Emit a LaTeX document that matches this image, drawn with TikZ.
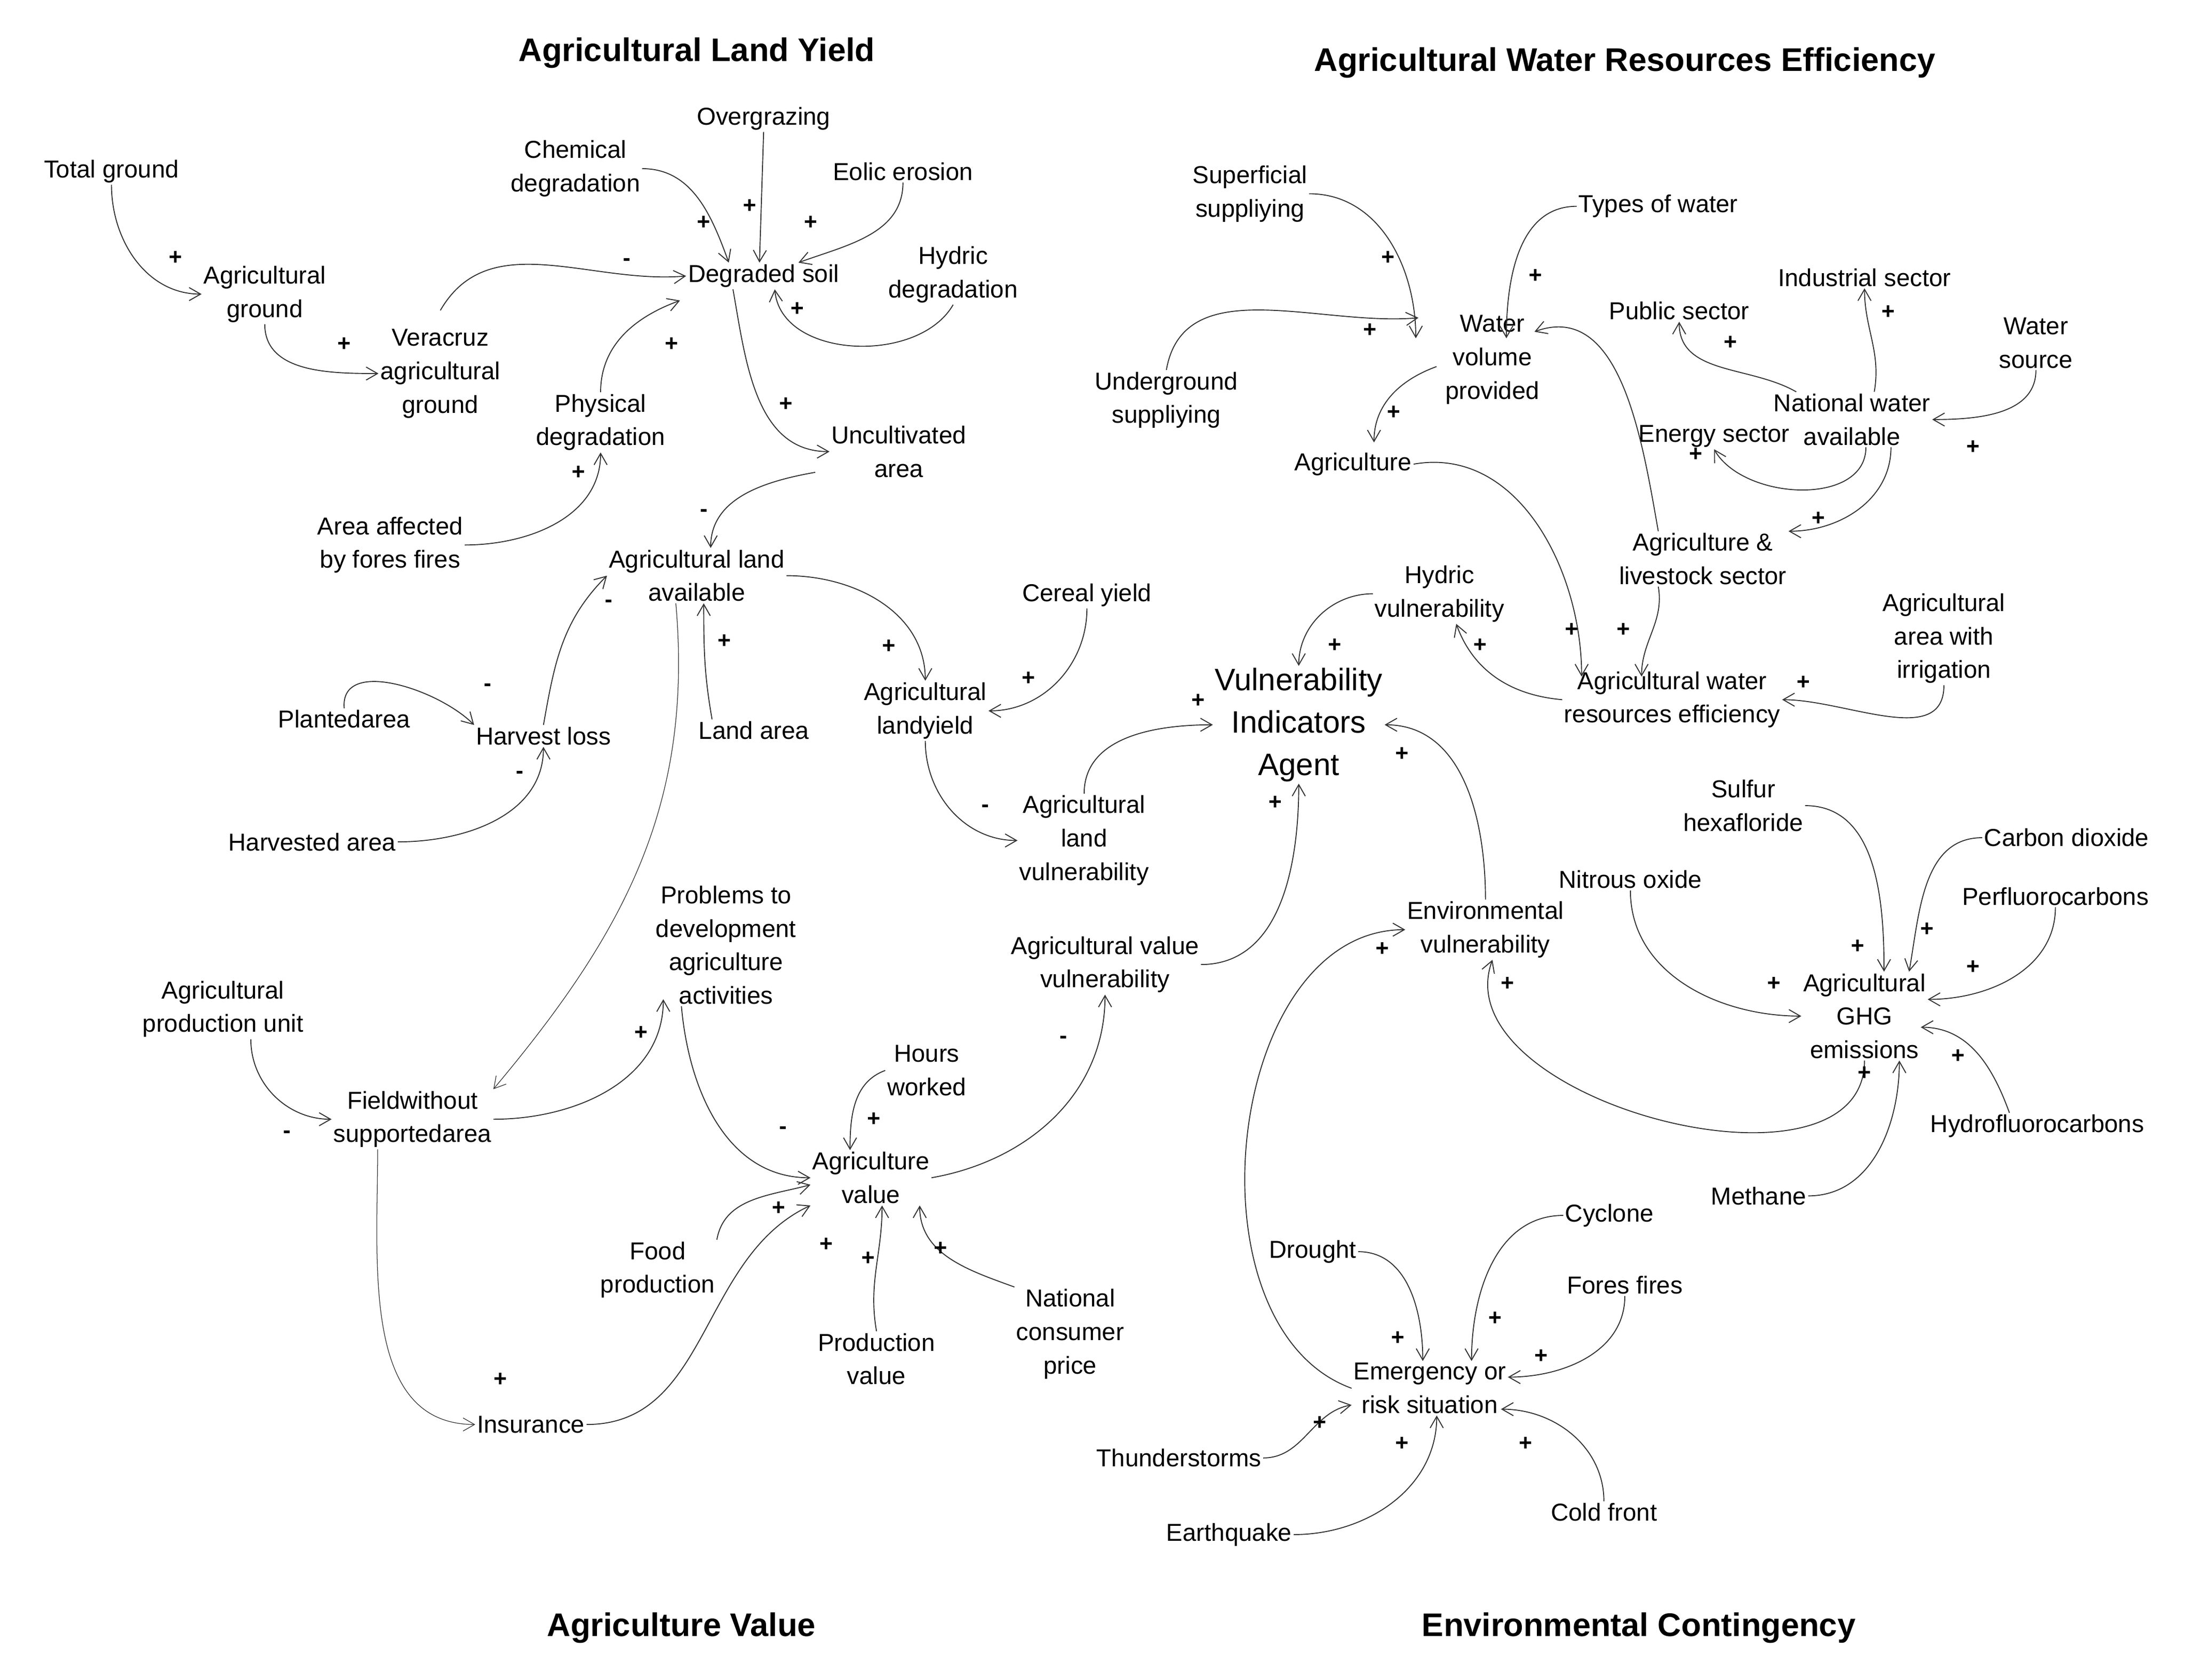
\documentclass[tikz,border=0pt]{standalone}
\usepackage{fontspec}
\setmainfont{Liberation Sans}
\usetikzlibrary{arrows.meta,calc}
\begin{document}
\begin{tikzpicture}[x=0.03cm,y=0.03cm,
  n/.style={align=center,inner sep=1pt,font=\fontsize{15}{20.5}\selectfont},
  tt/.style={font=\fontsize{20}{22}\selectfont\bfseries},
  sg/.style={inner sep=0pt,font=\fontsize{14}{14}\selectfont\bfseries},
  ar/.style={draw=black!80,line width=0.6pt,-{Straight Barb[length=7pt,width=8pt]}}]
\useasboundingbox (0,0) rectangle (1568,-1205);
\newcommand\sgn[3]{\node[sg] (s#1) at (#2) {#3};}
% titles
\node[tt] (t1) at (500,-38) {Agricultural Land Yield};
\node[tt] (t2) at (1166,-45) {Agricultural Water Resources Efficiency};
\node[tt] (t3) at (489,-1168) {Agriculture Value};
\node[tt] (t4) at (1176,-1168) {Environmental Contingency};
% land yield
\node[n] (tg) at (80,-123) {Total ground};
\node[n] (ag) at (190,-211) {Agricultural\\ground};
\node[n] (vag) at (316,-268) {Veracruz\\agricultural\\ground};
\node[n] (cd) at (413,-121) {Chemical\\degradation};
\node[n] (og) at (548,-85) {Overgrazing};
\node[n] (ee) at (648,-123) {Eolic erosion};
\node[n] (ds) at (548,-198) {Degraded soil};
\node[n] (hd) at (684,-197) {Hydric\\degradation};
\node[n] (pd) at (431,-303) {Physical\\degradation};
\node[n] (ua) at (645,-324) {Uncultivated\\area};
\node[n] (aff) at (280,-391) {Area affected\\by fores fires};
\node[n] (ala) at (500,-413) {Agricultural land\\available};
\node[n] (cy) at (780,-427) {Cereal yield};
\node[n] (pa) at (247,-516) {Plantedarea};
\node[n] (hl) at (390,-528) {Harvest loss};
\node[n] (la) at (541,-524) {Land area};
\node[n] (aly) at (664,-510) {Agricultural\\landyield};
\node[n] (ha) at (224,-604) {Harvested area};
\node[n] (alv) at (778,-603) {Agricultural\\land\\vulnerability};
\node[n,font=\fontsize{19}{26}\selectfont] (via) at (932,-520) {Vulnerability\\Indicators\\Agent};
% agriculture value
\node[n] (ptd) at (521,-678) {Problems to\\development\\agriculture\\activities};
\node[n] (avv) at (793,-692) {Agricultural value\\vulnerability};
\node[n] (apu) at (160,-724) {Agricultural\\production unit};
\node[n] (fwsa) at (296,-803) {Fieldwithout\\supportedarea};
\node[n] (hw) at (665,-768) {Hours\\worked};
\node[n] (av) at (625,-845) {Agriculture\\value};
\node[n] (fp) at (472,-911) {Food\\production};
\node[n] (pv) at (629,-975) {Production\\value};
\node[n] (ncp) at (768,-957) {National\\consumer\\price};
\node[n] (ins) at (381,-1022) {Insurance};
% water
\node[n] (ss) at (897,-139) {Superficial\\suppliying};
\node[n] (tw) at (1190,-148) {Types of water};
\node[n] (wvp) at (1071,-258) {Water\\volume\\provided};
\node[n] (us) at (837,-287) {Underground\\suppliying};
\node[n] (ps) at (1205,-223) {Public sector};
\node[n] (is) at (1338,-199) {Industrial sector};
\node[n] (wsrc) at (1461,-246) {Water\\source};
\node[n] (agri) at (971,-333) {Agriculture};
\node[n] (es) at (1230,-313) {Energy sector};
\node[n] (nwa) at (1329,-301) {National water\\available};
\node[n] (als) at (1222,-401) {Agriculture \&\\livestock sector};
\node[n] (hv) at (1033,-426) {Hydric\\vulnerability};
\node[n] (aai) at (1395,-458) {Agricultural\\area with\\irrigation};
\node[n] (awre) at (1200,-502) {Agricultural water\\resources efficiency};
% environment
\node[n] (sh) at (1251,-578) {Sulfur\\hexafloride};
\node[n] (co2) at (1483,-601) {Carbon dioxide};
\node[n] (pfc) at (1475,-643) {Perfluorocarbons};
\node[n] (no) at (1170,-631) {Nitrous oxide};
\node[n] (ev) at (1066,-667) {Environmental\\vulnerability};
\node[n] (ghg) at (1338,-729) {Agricultural\\GHG\\emissions};
\node[n] (hfc) at (1462,-808) {Hydrofluorocarbons};
\node[n] (me) at (1262,-858) {Methane};
\node[n] (cyc) at (1155,-872) {Cyclone};
\node[n] (dr) at (942,-898) {Drought};
\node[n] (ff) at (1166,-922) {Fores fires};
\node[n] (ers) at (1026,-996) {Emergency or\\risk situation};
\node[n] (ts) at (846,-1046) {Thunderstorms};
\node[n] (cf) at (1151,-1085) {Cold front};
\node[n] (eq) at (882,-1101) {Earthquake};
% edges land
\draw[ar] (tg.south) to[out=270,in=180] (ag.west);
\draw[ar] (ag.south) to[out=270,in=180] (vag.west);
\draw[ar] ($(vag.north)+(0,12)$) to[out=60,in=185] (ds.west);
\draw[ar] (cd.east) to[out=0,in=110] ($(ds.north)+(-25,0)$);
\draw[ar] (og.south) -- ($(ds.north)+(-3,0)$);
\draw[ar] (ee.south) to[out=270,in=20] ($(ds.north)+(25,0)$);
\draw[ar] (hd.south) to[out=240,in=275] ($(ds.south)+(8,0)$);
\draw[ar] (pd.north) to[out=90,in=200] ($(ds.south)+(-60,-8)$);
\draw[ar] ($(ds.south)+(-22,0)$) to[out=280,in=180] (ua.west);
\draw[ar] (aff.east) to[out=0,in=270] (pd.south);
\draw[ar] ($(ua.south)+(-60,5)$) to[out=190,in=90] ($(ala.north)+(10,0)$);
\draw[ar] (ala.east) to[out=0,in=90] (aly.north);
\draw[ar] (cy.south) to[out=270,in=0] (aly.east);
\draw[ar] (pa.north) to[out=95,in=135] (hl.north west);
\draw[ar] (hl.north) to[out=80,in=225] (ala.west);
\draw[ar] (ha.east) to[out=0,in=270] (hl.south);
\draw[ar] ($(la.north)+(-30,0)$) to[out=100,in=270] ($(ala.south)+(5,0)$);
\draw[ar,line width=0.4pt] ($(ala.south)+(-15,0)$) to[out=275,in=50] (fwsa.north east);
\draw[ar] (aly.south) to[out=270,in=180] (alv.west);
\draw[ar] (alv.north) to[out=90,in=180] (via.west);
\draw[ar] (avv.east) to[out=0,in=270] (via.south);
\draw[ar] (ev.north) to[out=90,in=0] (via.east);
\draw[ar] (hv.west) to[out=180,in=90] (via.north);
% edges value
\draw[ar] ($(apu.south)+(20,0)$) to[out=270,in=180] (fwsa.west);
\draw[ar] (fwsa.east) to[out=0,in=270] ($(ptd.south)+(-45,5)$);
\draw[ar] ($(ptd.south)+(-32,0)$) to[out=275,in=180] (av.west);
\draw[ar] (hw.west) to[out=200,in=90] ($(av.north)+(-15,0)$);
\draw[ar] (fp.north east) to[out=80,in=195] ($(av.west)+(0,-5)$);
\draw[ar] (ins.east) to[out=0,in=205] (av.south west);
\draw[ar] (pv.north) to[out=100,in=270] ($(av.south)+(8,0)$);
\draw[ar] (ncp.north west) to[out=160,in=270] ($(av.south)+(35,0)$);
\draw[ar] (av.east) to[out=10,in=270] (avv.south);
\draw[ar,line width=0.4pt] ($(fwsa.south)+(-25,0)$) to[out=270,in=180] (ins.west);
% edges water
\draw[ar] (ss.east) to[out=0,in=90] ($(wvp.north)+(-55,-18)$);
\draw[ar] (tw.west) to[out=180,in=90] ($(wvp.north)+(10,-18)$);
\draw[ar] (us.north) to[out=80,in=185] ($(wvp.west)+(-18,30)$);
\draw[ar] ($(wvp.west)+(-5,-5)$) to[out=200,in=90] ($(agri.north)+(15,6)$);
\draw[ar] (agri.east) to[out=10,in=90] ($(awre.north)+(-65,-5)$);
\draw[ar] ($(als.north)+(-32,0)$) to[out=100,in=20] ($(wvp.east)+(-5,20)$);
\draw[ar] ($(nwa.north)+(-40,0)$) to[out=150,in=270] (ps.south);
\draw[ar] ($(nwa.north)+(16,0)$) to[out=80,in=270] (is.south);
\draw[ar] (wsrc.south) to[out=270,in=0] (nwa.east);
\draw[ar] ($(nwa.south)+(10,0)$) to[out=270,in=300] (es.south);
\draw[ar] ($(nwa.south)+(28,0)$) to[out=270,in=0] (als.north east);
\draw[ar] ($(als.south)+(-32,0)$) to[out=280,in=90] ($(awre.north)+(-22,-5)$);
\draw[ar] (aai.south) to[out=270,in=0] (awre.east);
\draw[ar] (awre.west) to[out=175,in=290] ($(hv.south)+(12,0)$);
% edges environment
\draw[ar] (sh.east) to[out=0,in=90] ($(ghg.north)+(14,0)$);
\draw[ar] (co2.west) to[out=180,in=80] ($(ghg.north)+(32,0)$);
\draw[ar] (pfc.south) to[out=270,in=0] ($(ghg.east)+(0,12)$);
\draw[ar] (no.south) to[out=270,in=180] (ghg.west);
\draw[ar] ($(hfc.north)+(-20,0)$) to[out=110,in=0] ($(ghg.east)+(-5,-8)$);
\draw[ar] (me.east) to[out=0,in=270] ($(ghg.south)+(25,0)$);
\draw[ar] (ghg.south) to[out=270,in=250] ($(ev.south)+(5,0)$);
\draw[ar] (ers.west) to[out=160,in=180] (ev.west);
\draw[ar] (cyc.west) to[out=180,in=90] ($(ers.north)+(30,0)$);
\draw[ar] (dr.east) to[out=0,in=90] ($(ers.north)+(-5,0)$);
\draw[ar] (ff.south) to[out=270,in=0] ($(ers.east)+(0,8)$);
\draw[ar] (ts.east) to[out=0,in=190] ($(ers.west)+(0,-12)$);
\draw[ar] (eq.east) to[out=0,in=270] ($(ers.south)+(5,0)$);
\draw[ar] (cf.north) to[out=90,in=0] ($(ers.east)+(-5,-15)$);
% signs
\sgn{1}{126,-185}{+}\sgn{2}{247,-247}{+}\sgn{3}{450,-188}{-}\sgn{4}{505,-160}{+}
\sgn{5}{538,-148}{+}\sgn{6}{582,-160}{+}\sgn{7}{572,-222}{+}\sgn{8}{482,-247}{+}
\sgn{9}{564,-290}{+}\sgn{10}{415,-339}{+}\sgn{11}{505,-368}{-}\sgn{12}{638,-464}{+}
\sgn{13}{738,-487}{+}\sgn{14}{350,-493}{-}\sgn{15}{437,-433}{-}\sgn{16}{373,-556}{-}
\sgn{17}{520,-460}{+}\sgn{19}{707,-580}{-}\sgn{20}{860,-503}{+}\sgn{21}{915,-576}{+}
\sgn{22}{1006,-541}{+}\sgn{23}{958,-463}{+}\sgn{24}{206,-814}{-}\sgn{25}{460,-741}{+}
\sgn{26}{562,-811}{-}\sgn{27}{627,-803}{+}\sgn{28}{559,-867}{+}\sgn{29}{593,-893}{+}
\sgn{30}{623,-903}{+}\sgn{31}{675,-896}{+}\sgn{32}{763,-746}{-}\sgn{33}{359,-990}{+}
\sgn{34}{996,-185}{+}\sgn{35}{1102,-198}{+}\sgn{36}{983,-237}{+}\sgn{37}{1000,-296}{+}
\sgn{38}{1128,-452}{+}\sgn{40}{1242,-246}{+}\sgn{41}{1355,-224}{+}\sgn{42}{1416,-321}{+}
\sgn{43}{1217,-326}{+}\sgn{43b}{1305,-372}{+}\sgn{44}{1165,-452}{+}\sgn{45}{1294,-490}{+}
\sgn{46}{1062,-463}{+}\sgn{47}{1333,-679}{+}\sgn{48}{1383,-667}{+}\sgn{49}{1416,-694}{+}
\sgn{50}{1273,-706}{+}\sgn{51}{1405,-758}{+}\sgn{52}{1338,-770}{+}\sgn{53}{1082,-706}{+}
\sgn{54}{992,-681}{+}\sgn{55}{1073,-946}{+}\sgn{56}{1003,-960}{+}\sgn{57}{1106,-973}{+}
\sgn{58}{947,-1021}{+}\sgn{59}{1006,-1036}{+}\sgn{60}{1095,-1036}{+}
\end{tikzpicture}
\end{document}
